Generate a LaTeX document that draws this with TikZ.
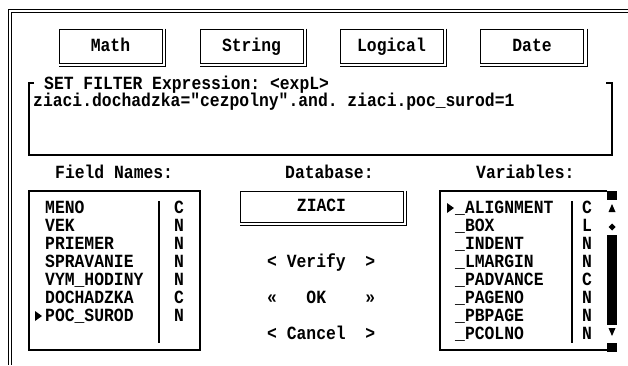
\documentclass[tikz,border=0pt]{standalone}
\usepackage{fontspec}
\setmonofont[FakeStretch=0.88]{Liberation Mono}
\begin{document}
\begin{tikzpicture}[x=1pt,y=-1pt,
    dos/.style={font=\ttfamily\bfseries\fontsize{18.6}{20}\selectfont,inner sep=0pt,anchor=base west},
    btn/.style={draw,line width=1pt,inner sep=0pt,minimum width=103pt,minimum height=34pt,
      font=\ttfamily\bfseries\fontsize{18.6}{20}\selectfont,text height=10.6pt,text depth=0pt},
    frame/.style={line width=1.2pt},
    sep/.style={line width=1.8pt}]
  \useasboundingbox (0,0) rectangle (628,365);
  % window border
  \draw[line width=0.9pt] (628,9) -- (8,9) -- (8,365);
  \draw[line width=0.9pt] (628,12) -- (11,12) -- (11,365);
  % buttons
  \node[btn] (math) at (110.5,46) {Math};
  \node[btn] (string) at (251.5,46) {String};
  \node[btn] (logical) at (391.5,46) {Logical};
  \node[btn] (date) at (532,46) {Date};
  \node[btn,minimum width=163pt,minimum height=31pt] (db) at (321.5,206.5) {ZIACI};
  \foreach \b in {math,string,logical,date,db}
    \draw[line width=1pt] ([xshift=3pt]\b.north east) |- ([yshift=-3pt]\b.south west);
  % expression
  \draw[frame] (34,83) -- (29,83) -- (29,155) -- (612,155) -- (612,83) -- (606,83);
  \node[dos] (exptitle) at (44,89) {SET FILTER Expression: <expL>};
  \node[dos] (expr) at (33,106) {ziaci.dochadzka="cezpolny".and. ziaci.poc\_surod=1};
  % labels
  \node[dos] (fieldlbl) at (55,178) {Field Names:};
  \node[dos] (dblbl) at (285,178) {Database:};
  \node[dos] (varlbl) at (476,178) {Variables:};
  % field list
  \draw[frame] (29,191) rectangle (200,350);
  \draw[sep] (159,201) -- (159,343);
  \foreach \f/\t [count=\i from 0] in {MENO/C,VEK/N,PRIEMER/N,SPRAVANIE/N,VYM\_HODINY/N,DOCHADZKA/C,POC\_SUROD/N}
    \node[dos] (field\i) at (45,213+18*\i) {\f} node[dos] (ftype\i) at (174,213+18*\i) {\t};
  \fill (35,311) -- (42,316) -- (35,321) -- cycle;
  % middle
  \node[dos] (verify) at (267,267) {< Verify\ \ >};
  \node[dos] (ok) at (267,303) {«\ \ \ OK\ \ \ \ »};
  \node[dos] (cancel) at (267,339) {< Cancel\ \ >};
  % variables
  \draw[frame] (607,191) -- (440,191) -- (440,350) -- (607,350);
  \draw[sep] (572,201) -- (572,343);
  \foreach \v/\t [count=\i from 0] in {\_ALIGNMENT/C,\_BOX/L,\_INDENT/N,\_LMARGIN/N,\_PADVANCE/C,\_PAGENO/N,\_PBPAGE/N,\_PCOLNO/N}
    \node[dos] (var\i) at (455,213+18*\i) {\v} node[dos] (vtype\i) at (582,213+18*\i) {\t};
  \fill (447,203) -- (454,208) -- (447,213) -- cycle;
  % scroll bar
  \fill (607,191) rectangle (617,200);
  \fill (608.5,212) -- (615.5,212) -- (612,204) -- cycle;
  \fill (612,223.5) -- (615.5,227) -- (612,230.5) -- (608.5,227) -- cycle;
  \fill (607,235) rectangle (617,325);
  \fill (608.5,328) -- (615.5,328) -- (612,336) -- cycle;
  \fill (607,343) rectangle (617,352);
\end{tikzpicture}
\end{document}
